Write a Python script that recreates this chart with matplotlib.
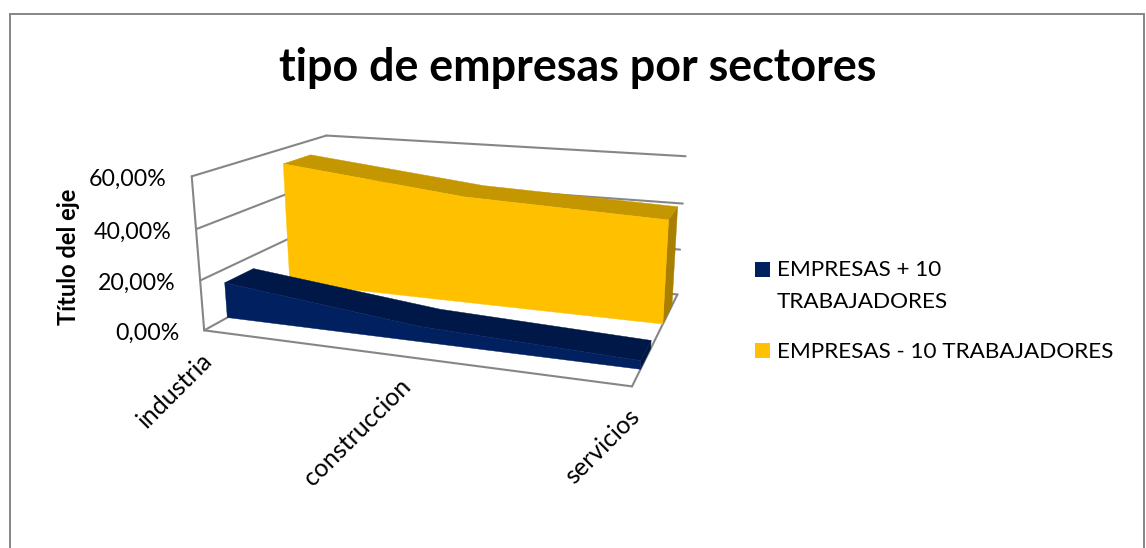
import numpy as np
import matplotlib.pyplot as plt
from matplotlib.patches import Rectangle

plt.rcParams['font.family'] = ['Lato', 'DejaVu Sans']

categorias = ['industria', 'construccion', 'servicios']
empresas_mas_10 = [14.5, 6.0, 3.2]
empresas_menos_10 = [53.5, 45.0, 42.0]
valores_eje = [0, 20, 40, 60]
etiquetas_eje = ['0,00%', '20,00%', '40,00%', '60,00%']

AZUL = ['#002060', '#001848', '#001540']
AMARILLO = ['#FFC000', '#C49700', '#A87F00']
GRIS = '#868686'

# camera of the 3D box: (x, depth, value) -> pixel, solved from the box corners
esquinas = [
    ((0, 0, 0), (203, 331)), ((0, 0, 60), (193, 176)),
    ((0, 1, 0), (333, 259)), ((0, 1, 60), (325, 136)),
    ((1, 1, 0), (677, 295)), ((1, 1, 60), (686, 156)),
    ((1, 0, 0), (632, 386)),
]
filas = []
for (x, d, v), (px, py) in esquinas:
    filas.append([x, d, v, 1, 0, 0, 0, 0, -px * x, -px * d, -px * v, -px])
    filas.append([0, 0, 0, 0, x, d, v, 1, -py * x, -py * d, -py * v, -py])
camara = np.linalg.svd(np.array(filas, dtype=float))[2][-1].reshape(3, 4)


def proyectar(x, d, v):
    p = camara @ np.array([x, d, v, 1.0])
    return p[0] / p[2], p[1] / p[2]


def linea(a, b, lw=1.5):
    pa, pb = proyectar(*a), proyectar(*b)
    ax.plot([pa[0], pb[0]], [pa[1], pb[1]], color=GRIS, lw=lw, solid_capstyle='round', zorder=1)


def cara(puntos, color, z):
    ax.fill(*zip(*[proyectar(*p) for p in puntos]), color=color, lw=0.3, zorder=z)


def cinta(valores, d0, d1, colores, z):
    xs = np.linspace(0, 1, len(valores))
    # right end, then top, then front face
    cara([(1, d0, 0), (1, d0, valores[-1]), (1, d1, valores[-1]), (1, d1, 0)], colores[2], z)
    arriba = [(x, d0, v) for x, v in zip(xs, valores)]
    arriba += [(x, d1, v) for x, v in zip(xs[::-1], valores[::-1])]
    cara(arriba, colores[1], z)
    frente = [(x, d0, v) for x, v in zip(xs, valores)]
    frente += [(x, d0, 0) for x in xs[::-1]]
    cara(frente, colores[0], z + 0.1)


fig = plt.figure(figsize=(11.46, 5.48), dpi=100)
ax = fig.add_axes([0, 0, 1, 1])
ax.set_xlim(0, 1146)
ax.set_ylim(548, 0)
ax.axis('off')

ax.add_patch(Rectangle((10, 14), 1134, 560, fc='white', ec=GRIS, lw=1.4, zorder=0))

# walls and floor
for v in valores_eje:
    linea((0, 0, v), (0, 1, v))
    linea((0, 1, v), (1, 1, v))
linea((0, 0, 0), (0, 0, 60))
linea((0, 0, 0), (1, 0, 0))
linea((1, 0, 0), (1, 1, 0))

cinta(empresas_menos_10, 0.62, 0.85, AMARILLO, 2)
cinta(empresas_mas_10, 0.15, 0.35, AZUL, 3)

for v, t in zip(valores_eje, etiquetas_eje):
    px, py = proyectar(0, 0, v)
    ax.text(px - 25, py + 3, t, ha='right', va='center', fontsize=16.7, color='black')

xs = np.linspace(0, 1, len(categorias))
for x, t in zip(xs, categorias):
    px, py = proyectar(x, 0, 0)
    ax.text(px + 4, py + 26, t, ha='right', va='center', rotation=45,
            rotation_mode='anchor', fontsize=18, color='black')

ax.text(68, 257, 'Título del eje', rotation=90, ha='center', va='center',
        fontsize=17, fontweight='bold', color='black')
ax.text(578, 68, 'tipo de empresas por sectores', ha='center', va='center',
        fontsize=32.3, fontweight='bold', color='black')

# legend
ax.add_patch(Rectangle((755, 262), 15, 15, fc=AZUL[0], ec='none'))
ax.add_patch(Rectangle((755, 343), 15, 15, fc=AMARILLO[0], ec='none'))
ax.text(777, 270.5, 'EMPRESAS + 10', va='center', fontsize=16.2, color='black')
ax.text(777, 302.5, 'TRABAJADORES', va='center', fontsize=16.2, color='black')
ax.text(777, 351.5, 'EMPRESAS - 10 TRABAJADORES', va='center', fontsize=16.2, color='black')

fig.savefig('out.png', dpi=100)
